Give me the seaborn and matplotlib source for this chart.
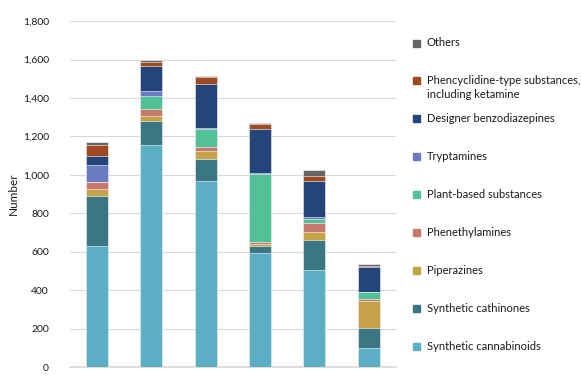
import matplotlib
matplotlib.use("Agg")
import matplotlib.pyplot as plt
from matplotlib.patches import Rectangle
import numpy as np
import pandas as pd
import seaborn as sns

# six bars, no labels on the x axis in the original
bars = ["1", "2", "3", "4", "5", "6"]

# stacked values, bottom to top
cannabinoids = [630, 1153, 969, 595, 505, 97]
cathinones = [261, 130, 115, 36, 157, 108]
piperazines = [35, 23, 40, 7, 39, 138]
phenethylamines = [35, 36, 19, 11, 50, 11]
plant_based = [3, 69, 95, 357, 17, 35]
tryptamines = [87, 25, 7, 3, 11, 2]
benzodiazepines = [49, 130, 226, 228, 187, 130]
phencyclidine = [55, 21, 37, 30, 28, 3]
others = [16, 10, 6, 2, 31, 14]

labels = ["Synthetic cannabinoids", "Synthetic cathinones", "Piperazines",
          "Phenethylamines", "Plant-based substances", "Tryptamines",
          "Designer benzodiazepines",
          "Phencyclidine-type substances,\nincluding ketamine", "Others"]
series = [cannabinoids, cathinones, piperazines, phenethylamines, plant_based,
          tryptamines, benzodiazepines, phencyclidine, others]
colors = ["#5BAEC4", "#3A7684", "#C5A247", "#C8796E", "#52C197",
          "#6A7CC1", "#23457A", "#A04A22", "#656565"]

sns.set_theme(style="white")
plt.rcParams["font.family"] = ["Lato", "DejaVu Sans"]

fig = plt.figure(figsize=(5.82, 3.78), dpi=100)
ax = fig.add_axes([0.120, 0.029, 0.560, 0.915])

df = pd.DataFrame(dict(zip(labels, series)), index=bars)
cum = df.cumsum(axis=1)

# draw cumulative totals from the top category down so lower ones overlay
for lab, col in zip(labels[::-1], colors[::-1]):
    sns.barplot(x=bars, y=cum[lab].values, color=col, width=0.405,
                saturation=1, edgecolor="white", linewidth=0.4, ax=ax,
                zorder=3)

ax.set_ylim(0, 1800)
ax.set_xlim(-0.5, 5.5)
ax.set_yticks(np.arange(0, 1801, 200))
ax.set_yticklabels([f"{v:,}" for v in range(0, 1801, 200)])
ax.yaxis.grid(True, color="#D9D9D9", linewidth=0.8, zorder=0)
ax.set_axisbelow(True)
ax.set_xticks([])
ax.tick_params(axis="y", length=0, pad=15, labelsize=7.5, labelcolor="#1a1a1a")
for s in ["top", "right", "left"]:
    ax.spines[s].set_visible(False)
ax.spines["bottom"].set_color("#D9D9D9")
ax.set_ylabel("Number", fontsize=8.5, color="#1a1a1a")
ax.yaxis.set_label_coords(-0.155, 0.5)
ax.set_xlabel("")

# legend drawn by hand so the rows stay evenly spaced
ys = np.linspace(346, 43, 9)
for lab, col, yp in zip(labels, colors, ys):
    fy = 1 - yp / 378
    fig.patches.append(Rectangle((413 / 582, fy - 3.5 / 378), 7 / 582, 7 / 378,
                                 transform=fig.transFigure, color=col))
    fig.text(427 / 582, fy, lab, fontsize=8, color="#1a1a1a",
             va="top" if "\n" in lab else "center", linespacing=1.35,
             transform=fig.transFigure)

fig.texts[-2].set_y(1 - (81 - 6.5) / 378)

fig.savefig("out.png", dpi=100)
